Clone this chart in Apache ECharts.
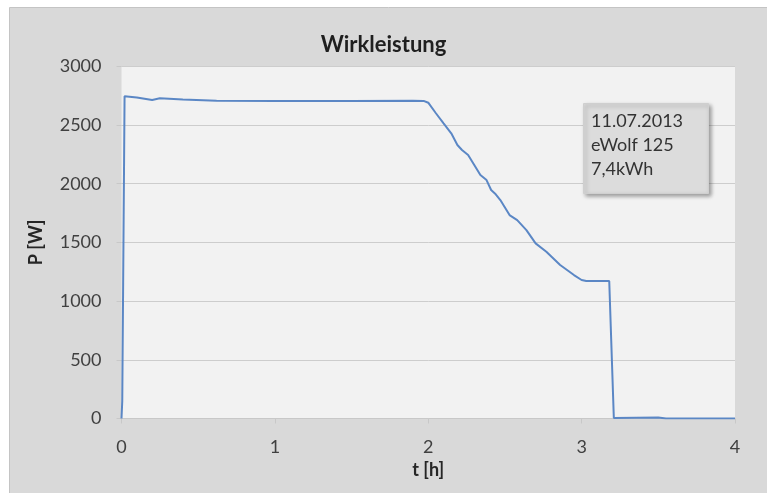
<!DOCTYPE html>
<html>
<head>
<meta charset="utf-8">
<script src="https://cdn.jsdelivr.net/npm/echarts@6/dist/echarts.min.js"></script>
<style>
html,body{margin:0;padding:0;background:#fff;}
#c{width:767px;height:493px;}
</style>
</head>
<body>
<div id="c"></div>
<script>
// Data (time in hours, active power in W)
const timeH = [0, 0.005, 0.02, 0.10, 0.20, 0.25, 0.40, 0.62, 1.00, 1.50, 1.90, 1.97, 2.00, 2.05, 2.10, 2.15, 2.19, 2.22, 2.26, 2.30, 2.34, 2.38, 2.41, 2.44, 2.47, 2.53, 2.58, 2.64, 2.70, 2.77, 2.86, 2.95, 3.00, 3.03, 3.18, 3.21, 3.50, 3.55, 4.00];
const powerW = [0, 150, 2745, 2735, 2713, 2727, 2718, 2707, 2704, 2705, 2706, 2705, 2690, 2600, 2514, 2429, 2330, 2287, 2245, 2160, 2074, 2031, 1946, 1910, 1861, 1733, 1690, 1605, 1492, 1421, 1308, 1222, 1180, 1171, 1171, 5, 8, 0, 0];
const xTicks = [0, 1, 2, 3, 4];
const yTicks = [0, 500, 1000, 1500, 2000, 2500, 3000];
const titleText = 'Wirkleistung';
const xName = 't [h]';
const yName = 'P [W]';
const noteLines = ['11.07.2013', 'eWolf 125', '7,4kWh'];

const FONT = 'Lato, "Open Sans", sans-serif';
const chart = echarts.init(document.getElementById('c'), null, {renderer: 'canvas'});
chart.setOption({
  backgroundColor: '#ffffff',
  animation: false,
  graphic: [
    {type: 'rect', z: -10, left: 9, top: 7, shape: {width: 758, height: 486},
     style: {fill: '#d9d9d9', stroke: '#c4c4c4', lineWidth: 1}},
    {type: 'rect', left: 583, top: 103, z: 100, zlevel: 1, shape: {width: 125, height: 90},
     style: {fill: '#dcdcdc', stroke: '#cfcfcf', lineWidth: 1,
             shadowBlur: 4, shadowOffsetX: 2, shadowOffsetY: 2, shadowColor: 'rgba(0,0,0,0.35)'}},
    {type: 'text', left: 591, top: 109, z: 101, zlevel: 1,
     style: {text: noteLines.join('\n'), font: '18px ' + FONT, fill: '#333333', lineHeight: 24}}
  ],
  title: {
    text: titleText, left: 'center', top: 29,
    textStyle: {fontFamily: FONT, fontWeight: 'bold', fontSize: 22, color: '#1f1f1f'}
  },
  grid: {left: 121.5, right: 32, top: 66.3, bottom: 74.5, show: true,
         backgroundColor: '#f2f2f2', borderWidth: 0},
  xAxis: {
    type: 'value', min: xTicks[0], max: xTicks[xTicks.length - 1], interval: 1,
    name: xName, nameLocation: 'middle', nameGap: 40,
    nameTextStyle: {fontFamily: FONT, fontWeight: 'bold', fontSize: 18, color: '#262626'},
    axisLine: {show: true, lineStyle: {color: '#c8c8c8', width: 1}},
    axisTick: {show: true, length: 5, inside: false, lineStyle: {color: '#c8c8c8'}},
    axisLabel: {fontFamily: FONT, fontSize: 18, color: '#404040', margin: 20},
    splitLine: {show: false}
  },
  yAxis: {
    type: 'value', min: yTicks[0], max: yTicks[yTicks.length - 1], interval: 500,
    name: yName, nameLocation: 'middle', nameGap: 76, nameRotate: 90,
    nameTextStyle: {fontFamily: FONT, fontWeight: 'bold', fontSize: 18, color: '#262626'},
    axisLine: {show: false},
    axisTick: {show: true, length: 5, lineStyle: {color: '#c8c8c8'}},
    axisLabel: {fontFamily: FONT, fontSize: 18, color: '#404040', margin: 20,
                formatter: v => String(v)},
    splitLine: {show: true, lineStyle: {color: '#cdcdcd', width: 1}}
  },
  series: [{
    type: 'line', data: timeH.map((t, i) => [t, powerW[i]]),
    showSymbol: false, symbol: 'none',
    lineStyle: {color: '#5b87c5', width: 2},
    z: 5
  }]
});
</script>
</body>
</html>
